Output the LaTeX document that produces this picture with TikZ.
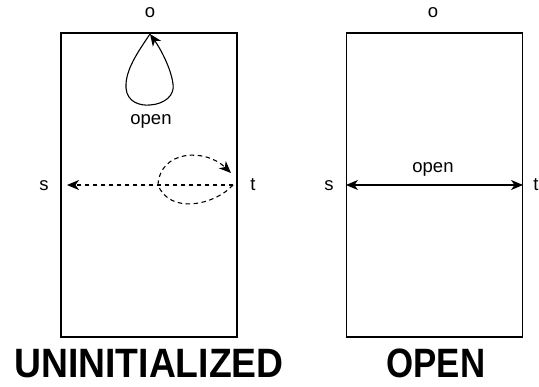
\documentclass[tikz,border=0pt]{standalone}
\usepackage{fontspec}
\setmainfont{Liberation Sans}
\usetikzlibrary{arrows.meta}
\tikzset{
  panel/.style={draw, line width=1.1pt, minimum width=176pt, minimum height=304pt, inner sep=0pt},
  lbl/.style={font=\fontsize{18.5}{20}\selectfont, inner sep=0pt},
  title/.style={font=\fontsize{41}{45}\selectfont\bfseries, inner sep=0pt, anchor=base, text depth=0pt},
  tip/.style={-{Stealth[length=12pt,width=10pt,inset=3.5pt]}},
  link/.style={line width=1.1pt},
  dlink/.style={line width=1.1pt, dash pattern=on 4.5pt off 3.5pt},
}
\begin{document}
\begin{tikzpicture}[x=1pt,y=-1pt]
  \useasboundingbox (0,0) rectangle (539,387);

  % left panel
  \node[panel] (L) at (149,185) {};
  \node[lbl] (Lo) at (150,13) {o};
  \node[lbl] (Ls) at (44,186) {s};
  \node[lbl] (Lt) at (253,185) {t};
  \node[lbl] (Lopen) at (151,121) {open};
  \coordinate (Ltop) at (150,34);
  \coordinate (Lsend) at (67,185);
  \coordinate (Ltend) at (233,185);
  \coordinate (Lloop) at (231,173);

  % self loop on o
  \draw[link,tip] (Ltop) .. controls (138,52) and (125,70) .. (126,88)
        .. controls (127,102) and (140,106) .. (150,105)
        .. controls (165,104) and (175,95) .. (173,84)
        .. controls (171,68) and (160,48) .. (Ltop);
  % dashed transitions t -> s and t -> t
  \draw[dlink,tip] (Ltend) -- (Lsend);
  \draw[dlink,tip] (Ltend) .. controls (215,205) and (170,215) .. (158,185)
        .. controls (160,150) and (205,148) .. (Lloop);

  \node[title, xscale=0.91] (Ltitle) at (149,378) {UNINITIALIZED};

  % right panel
  \node[panel] (R) at (434.5,185) {};
  \node[lbl] (Ro) at (433,13) {o};
  \node[lbl] (Rs) at (329,186) {s};
  \node[lbl] (Rt) at (536,185) {t};
  \node[lbl] (Ropen) at (433,169) {open};
  \draw[link,{Stealth[length=12pt,width=10pt,inset=3.5pt]}-{Stealth[length=12pt,width=10pt,inset=3.5pt]}]
        (R.west |- 0,185) -- (R.east |- 0,185);

  \node[title, xscale=0.85] (Rtitle) at (436,378) {OPEN};
\end{tikzpicture}
\end{document}
